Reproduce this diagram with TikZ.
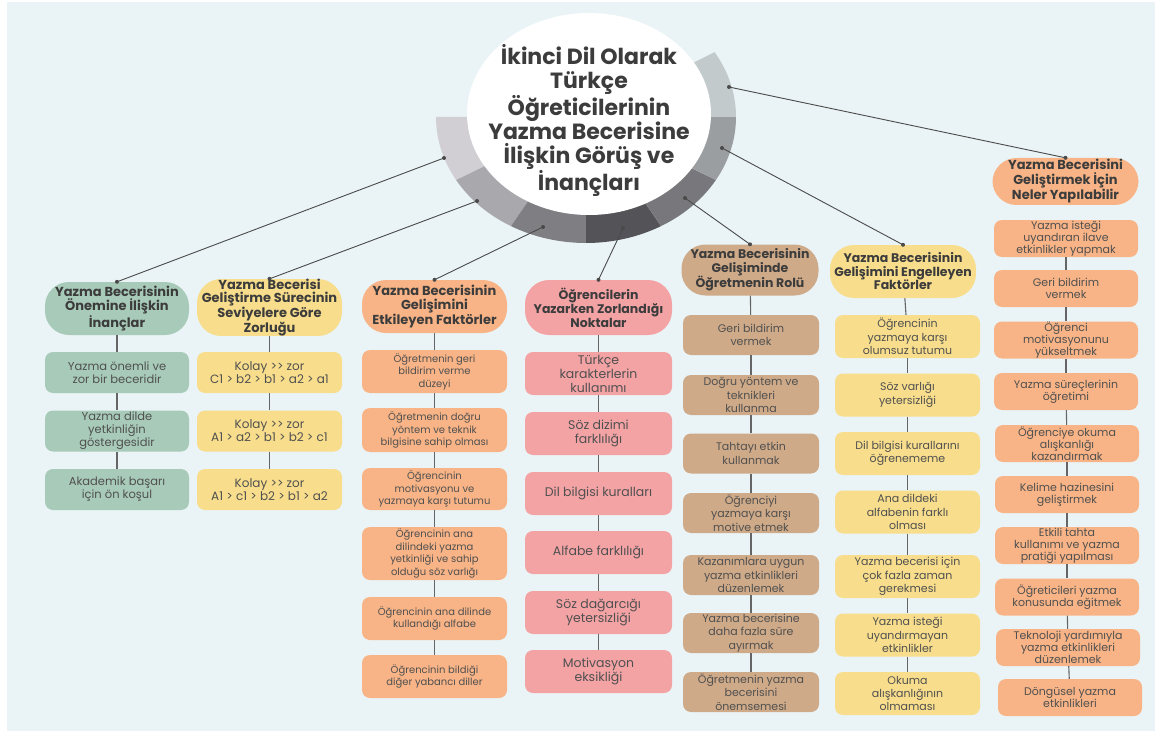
\documentclass[tikz,border=0pt]{standalone}
\usepackage{fontspec}
\setmainfont{Poppins}
\usetikzlibrary{calc}
\definecolor{bg}{HTML}{EAF4F6}
\definecolor{sA}{HTML}{D1CFD3}
\definecolor{sB}{HTML}{A9A8AC}
\definecolor{sC}{HTML}{7F7E83}
\definecolor{sD}{HTML}{545357}
\definecolor{sE}{HTML}{78787C}
\definecolor{sF}{HTML}{9B9EA1}
\definecolor{sG}{HTML}{C2CACC}
\definecolor{cgreen}{HTML}{A8CBB9}
\definecolor{cyellow}{HTML}{F8DE8C}
\definecolor{corange}{HTML}{F8B486}
\definecolor{cpink}{HTML}{F4A3A5}
\definecolor{ctan}{HTML}{CFAA88}
\definecolor{ttl}{HTML}{3C3C3C}
\definecolor{txt}{HTML}{505050}
\definecolor{lnc}{HTML}{4A4A4A}
\newcommand{\dblgt}{>\kern0pt>}
\tikzset{
  hdr/.style={rounded corners=24pt, align=center, inner sep=0pt, text=ttl,
    font=\fontsize{13}{14.5}\selectfont\bfseries},
  bx/.style={rounded corners=8pt, align=center, inner sep=0pt, text=txt},
  con/.style={draw=lnc, line width=0.9pt},
  vl/.style={draw=lnc!85, line width=1.1pt},
  dot/.style={fill=lnc}
}
\begin{document}
\begin{tikzpicture}[x=1pt,y=-1pt]
\useasboundingbox (0,0) rectangle (1160,733);
\fill[white] (0,0) rectangle (1160,733);
\fill[bg] (7,2) rectangle (1155,731);
% ring
\coordinate (rc) at (586,117);
\fill[sA] (rc) -- +(180:150 and 126) arc[start angle=180, end angle=150, x radius=150, y radius=126] -- cycle;
\fill[sB] (rc) -- +(150:150 and 126) arc[start angle=150, end angle=120, x radius=150, y radius=126] -- cycle;
\fill[sC] (rc) -- +(120:150 and 126) arc[start angle=120, end angle=90, x radius=150, y radius=126] -- cycle;
\fill[sD] (rc) -- +(90:150 and 126) arc[start angle=90, end angle=60, x radius=150, y radius=126] -- cycle;
\fill[sE] (rc) -- +(60:150 and 126) arc[start angle=60, end angle=30, x radius=150, y radius=126] -- cycle;
\fill[sF] (rc) -- +(30:150 and 126) arc[start angle=30, end angle=0, x radius=150, y radius=126] -- cycle;
\fill[sG] (rc) -- +(0:150 and 126) arc[start angle=0, end angle=-31, x radius=150, y radius=126] -- cycle;
\fill[white] (589,114) ellipse [x radius=122, y radius=101];
\node[align=center, text=ttl, font=\fontsize{22}{24}\selectfont\bfseries] (ctr) at (589,120)
  {İkinci Dil Olarak\\Türkçe\\Öğreticilerinin\\Yazma Becerisine\\İlişkin Görüş ve\\İnançları};
% ring anchor points
\coordinate (r1) at (444,158);
\coordinate (r2) at (477,201);
\coordinate (r3) at (543,227);
\coordinate (r4) at (623,228);
\coordinate (r5) at (685,198);
\coordinate (r6) at (722,148);
\coordinate (r7) at (729,87);
% ---------- column 1
\node[hdr, fill=cgreen, minimum width=144pt, minimum height=53pt] (h1) at (117,308.5) {Yazma Becerisinin\\Önemine İlişkin\\İnançlar};
\begin{scope}[every node/.style={bx, fill=cgreen, minimum width=144pt, minimum height=41pt, font=\fontsize{11.5}{13}\selectfont}]
\node (a1) at (117,372.5) {Yazma önemli ve\\zor bir beceridir};
\node (a2) at (117,431) {Yazma dilde\\yetkinliğin\\göstergesidir};
\node (a3) at (117,489.5) {Akademik başarı\\için ön koşul};
\end{scope}
\draw[vl] (h1) -- (a1); \draw[vl] (a1) -- (a2); \draw[vl] (a2) -- (a3);
% ---------- column 2
\node[hdr, fill=cyellow, minimum width=145pt, minimum height=55pt, font=\fontsize{13}{13.3}\selectfont\bfseries] (h2) at (269.5,307.5) {Yazma Becerisi\\Geliştirme Sürecinin\\Seviyelere Göre\\Zorluğu};
\begin{scope}[every node/.style={bx, fill=cyellow, minimum width=145pt, minimum height=41pt, font=\fontsize{12}{13}\selectfont}]
\node (b1) at (269.5,372.5) {Kolay \dblgt{} zor\\C1 > b2 > b1 > a2 > a1};
\node (b2) at (269.5,431) {Kolay \dblgt{} zor\\A1 > a2 > b1 > b2 > c1};
\node (b3) at (269.5,489.5) {Kolay \dblgt{} zor\\A1 > c1 > b2 > b1 > a2};
\end{scope}
\draw[vl] (h2) -- (b1); \draw[vl] (b1) -- (b2); \draw[vl] (b2) -- (b3);
% ---------- column 3
\node[hdr, fill=corange, minimum width=145pt, minimum height=53pt] (h3) at (434.5,306.5) {Yazma Becerisinin\\Gelişimini\\Etkileyen Faktörler};
\begin{scope}[every node/.style={bx, fill=corange, minimum width=145pt, font=\fontsize{10}{12.5}\selectfont}]
\node[minimum height=43pt] (c1) at (434.5,371.5) {Öğretmenin geri\\bildirim verme\\düzeyi};
\node[minimum height=44pt] (c2) at (434.5,430) {Öğretmenin doğru\\yöntem ve teknik\\bilgisine sahip olması};
\node[minimum height=42pt] (c3) at (434.5,489) {Öğrencinin\\motivasyonu ve\\yazmaya karşı tutumu};
\node[minimum height=53pt] (c4) at (434.5,553.5) {Öğrencinin ana\\dilindeki yazma\\yetkinliği ve sahip\\olduğu söz varlığı};
\node[minimum height=43pt] (c5) at (434.5,618.5) {Öğrencinin ana dilinde\\kullandığı alfabe};
\node[minimum height=43pt] (c6) at (434.5,676.5) {Öğrencinin bildiği\\diğer yabancı diller};
\end{scope}
\draw[vl] (h3) -- (c1); \draw[vl] (c1) -- (c2); \draw[vl] (c2) -- (c3);
\draw[vl] (c3) -- (c4); \draw[vl] (c4) -- (c5); \draw[vl] (c5) -- (c6);
% ---------- column 4
\node[hdr, fill=cpink, minimum width=147pt, minimum height=55pt, font=\fontsize{12.5}{14}\selectfont\bfseries] (h4) at (598.5,307.5) {Öğrencilerin\\Yazarken Zorlandığı\\Noktalar};
\begin{scope}[every node/.style={bx, fill=cpink, minimum width=147pt, minimum height=43pt, font=\fontsize{12.5}{14}\selectfont}]
\node (d1) at (598.5,373.5) {Türkçe\\karakterlerin\\kullanımı};
\node (d2) at (598.5,433.5) {Söz dizimi\\farklılığı};
\node (d3) at (598.5,493.5) {Dil bilgisi kuralları};
\node (d4) at (598.5,552.5) {Alfabe farklılığı};
\node (d5) at (598.5,612.5) {Söz dağarcığı\\yetersizliği};
\node (d6) at (598.5,671.5) {Motivasyon\\eksikliği};
\end{scope}
\draw[vl] (h4) -- (d1); \draw[vl] (d1) -- (d2); \draw[vl] (d2) -- (d3);
\draw[vl] (d3) -- (d4); \draw[vl] (d4) -- (d5); \draw[vl] (d5) -- (d6);
% ---------- column 5
\node[hdr, fill=ctan, minimum width=137pt, minimum height=51pt, font=\fontsize{12.5}{13.5}\selectfont\bfseries] (h5) at (750,270) {Yazma Becerisinin\\Gelişiminde\\Öğretmenin Rolü};
\begin{scope}[every node/.style={bx, fill=ctan, minimum width=136pt, minimum height=40pt, font=\fontsize{11}{13.3}\selectfont}]
\node (e1) at (751,335) {Geri bildirim\\vermek};
\node (e2) at (751,395) {Doğru yöntem ve\\teknikleri\\kullanma};
\node (e3) at (751,453.5) {Tahtayı etkin\\kullanmak};
\node (e4) at (751,513) {Öğrenciyi\\yazmaya karşı\\motive etmek};
\node (e5) at (751,575) {Kazanımlara uygun\\yazma etkinlikleri\\düzenlemek};
\node (e6) at (751,633) {Yazma becerisine\\daha fazla süre\\ayırmak};
\node (e7) at (751,692) {Öğretmenin yazma\\becerisini\\önemsemesi};
\end{scope}
\draw[vl] (h5) -- (e1); \draw[vl] (e1) -- (e2); \draw[vl] (e2) -- (e3);
\draw[vl] (e3) -- (e4); \draw[vl] (e4) -- (e5); \draw[vl] (e5) -- (e6); \draw[vl] (e6) -- (e7);
% ---------- column 6
\node[hdr, fill=cyellow, minimum width=146pt, minimum height=53pt, font=\fontsize{12.5}{13.5}\selectfont\bfseries] (h6) at (903,271.5) {Yazma Becerisinin\\Gelişimini Engelleyen\\Faktörler};
\begin{scope}[every node/.style={bx, fill=cyellow, minimum width=145pt, minimum height=43pt, font=\fontsize{11}{13.3}\selectfont}]
\node (f1) at (907.5,336.5) {Öğrencinin\\yazmaya karşı\\olumsuz tutumu};
\node (f2) at (907.5,395) {Söz varlığı\\yetersizliği};
\node (f3) at (907.5,453.5) {Dil bilgisi kurallarını\\öğrenememe};
\node (f4) at (907.5,512) {Ana dildeki\\alfabenin farklı\\olması};
\node (f5) at (907.5,576.5) {Yazma becerisi için\\çok fazla zaman\\gerekmesi};
\node (f6) at (907.5,635) {Yazma isteği\\uyandırmayan\\etkinlikler};
\node (f7) at (907.5,693.5) {Okuma\\alışkanlığının\\olmaması};
\end{scope}
\draw[vl] (h6) -- (f1); \draw[vl] (f1) -- (f2); \draw[vl] (f2) -- (f3);
\draw[vl] (f3) -- (f4); \draw[vl] (f4) -- (f5); \draw[vl] (f5) -- (f6); \draw[vl] (f6) -- (f7);
% ---------- column 7
\node[hdr, fill=corange, minimum width=146pt, minimum height=47pt, font=\fontsize{13}{15}\selectfont\bfseries] (h7) at (1065.5,181.5) {Yazma Becerisini\\Geliştirmek İçin\\Neler Yapılabilir};
\begin{scope}[every node/.style={bx, fill=corange, minimum width=144pt, minimum height=37pt, font=\fontsize{11}{11.8}\selectfont}]
\node (g1) at (1066,238.5) {Yazma isteği\\uyandıran ilave\\etkinlikler yapmak};
\node (g2) at (1066,288.5) {Geri bildirim\\vermek};
\node (g3) at (1066,340) {Öğrenci\\motivasyonunu\\yükseltmek};
\node (g4) at (1066,391.5) {Yazma süreçlerinin\\öğretimi};
\node (g5) at (1067,443.5) {Öğrenciye okuma\\alışkanlığı\\kazandırmak};
\node (g6) at (1067,494.5) {Kelime hazinesini\\geliştirmek};
\node (g7) at (1067,545.5) {Etkili tahta\\kullanımı ve yazma\\pratiği yapılması};
\node (g8) at (1067,597) {Öğreticileri yazma\\konusunda eğitmek};
\node (g9) at (1068,647.5) {Teknoloji yardımıyla\\yazma etkinlikleri\\düzenlemek};
\node (g10) at (1070,697.5) {Döngüsel yazma\\etkinlikleri};
\end{scope}
\draw[vl] (g1) -- (g2); \draw[vl] (g2) -- (g3); \draw[vl] (g3) -- (g4);
\draw[vl] (g4) -- (g5); \draw[vl] (g5) -- (g6); \draw[vl] (g6) -- (g7);
\draw[vl] (g7) -- (g8); \draw[vl] (g8) -- (g9); \draw[vl] (g9) -- (g10);
% ---------- connectors from ring
\draw[con] (r1) -- (h1.north);
\draw[con] (r2) -- (h2.north);
\draw[con] (r3) -- (h3.north);
\draw[con] (r4) -- (h4.north);
\draw[con] (r5) -- (h5.north);
\draw[con] (r6) -- (h6.north);
\draw[con] (r7) -- (h7.north);
\foreach \p in {r1,r2,r3,r4,r5,r6,r7,h1.north,h2.north,h3.north,h4.north,h5.north,h6.north,h7.north}
  \fill[dot] (\p) circle (2pt);
\end{tikzpicture}
\end{document}
